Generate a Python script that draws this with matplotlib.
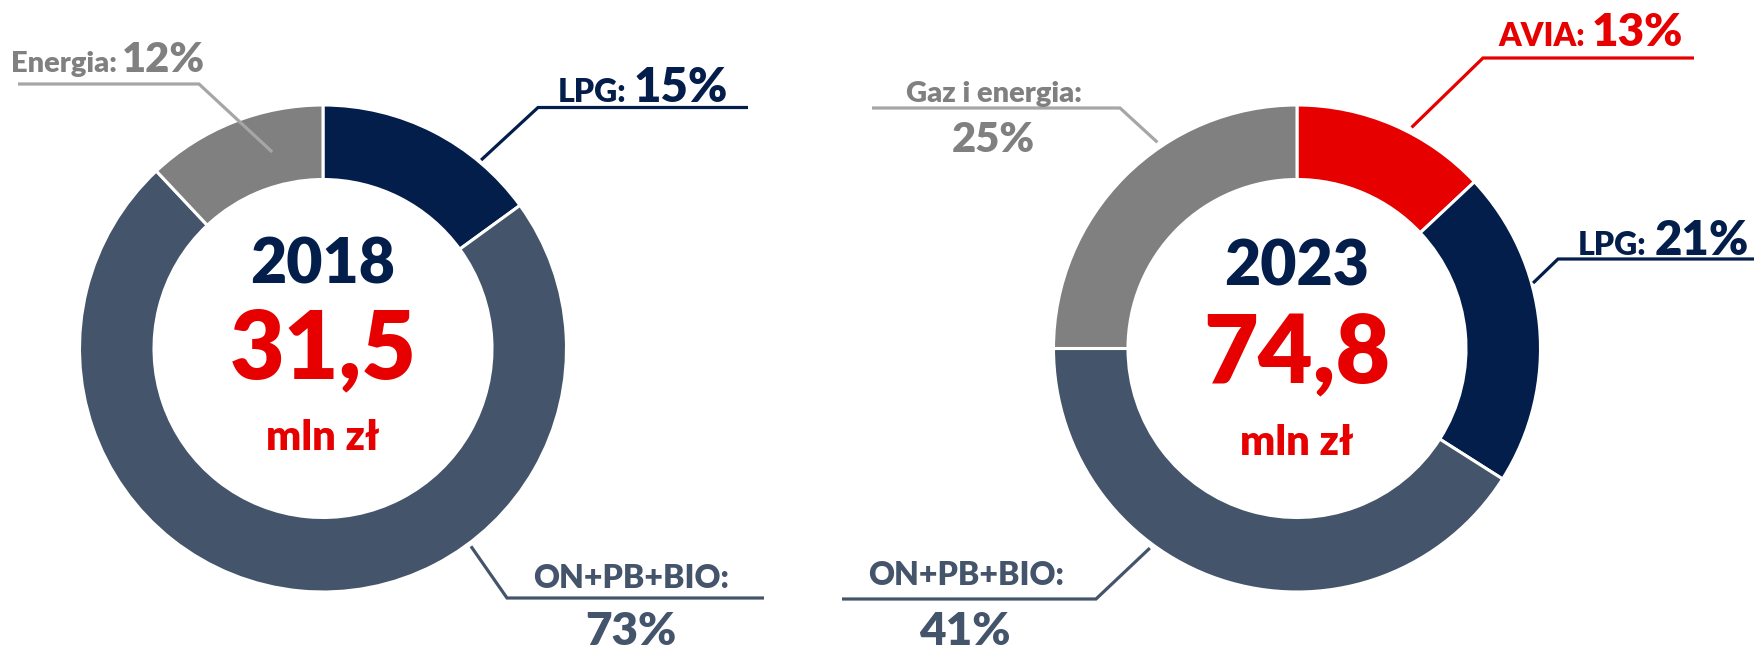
import numpy as np
import matplotlib
matplotlib.use("Agg")
import matplotlib.pyplot as plt

plt.rcParams['font.family'] = ['Lato', 'DejaVu Sans']

# ---------------- data ----------------
years = ['2018', '2023']
totals = ['31,5', '74,8']
unit = 'mln zł'
cats_2018 = ['LPG', 'ON+PB+BIO', 'Energia']
vals_2018 = [15, 73, 12]
cats_2023 = ['AVIA', 'LPG', 'ON+PB+BIO', 'Gaz i energia']
vals_2023 = [13, 21, 41, 25]

NAVY = '#041E4B'
RED = '#E60000'
SLATE = '#44546A'
GRAY = '#808080'
LGRAY = '#A6A6A6'

colors_2018 = [NAVY, SLATE, GRAY]
colors_2023 = [RED, NAVY, SLATE, GRAY]
text_2018 = [NAVY, SLATE, GRAY]
text_2023 = [RED, NAVY, SLATE, GRAY]
line_2018 = [NAVY, SLATE, LGRAY]
line_2023 = [RED, NAVY, SLATE, LGRAY]

WEIGHT = 'heavy'

W, H = 1754, 651
fig = plt.figure(figsize=(W / 100, H / 100), dpi=100)
ax = fig.add_axes([0, 0, 1, 1])

R_OUT = 243.5
R_IN = 169
centers = [(323, 348.5), (1297, 348.5)]


def Y(y):
    return H - y


layout_2018 = [
    dict(ang=40, r=246, ex=538, ey=107.5, fx=748, mode='inline',
         nx=558, ny=102, px=728, py=102, ns=23, ps=34),
    dict(ang=143.2, r=247, ex=507, ey=598, fx=764, mode='stack',
         nx=631, ny=588, px=631, py=645, ns=23, ps=33),
    dict(ang=-14.5, r=203, ex=199, ey=84, fx=18, mode='inline',
         nx=11, ny=72, px=205, py=72, ns=21, ps=30),
]
layout_2023 = [
    dict(ang=27.4, r=249, ex=1483, ey=58, fx=1694, mode='inline',
         nx=1498, ny=46, px=1683, py=46, ns=23, ps=33),
    dict(ang=74.5, r=245, ex=1558, ey=259, fx=1760, mode='inline',
         nx=1578, ny=255, px=1749, py=255, ns=23, ps=34),
    dict(ang=216.4, r=248, ex=1096, ey=599, fx=842, mode='stack',
         nx=966, ny=585, px=965, py=645, ns=23, ps=33),
    dict(ang=-34.1, r=249, ex=1120, ey=108, fx=872, mode='stack',
         nx=993.5, ny=102, px=993, py=152, ns=21, ps=30),
]

center_y = [(283, 378, 450), (285, 383, 455)]

charts = [
    (cats_2018, vals_2018, colors_2018, text_2018, line_2018, layout_2018),
    (cats_2023, vals_2023, colors_2023, text_2023, line_2023, layout_2023),
]

for i, (cats, vals, cols, tcols, lcols, lay) in enumerate(charts):
    cx, cy = centers[i]
    ax.pie(vals, colors=cols, startangle=90, counterclock=False,
           radius=R_OUT, center=(cx, Y(cy)),
           wedgeprops=dict(width=R_OUT - R_IN, edgecolor='white', linewidth=2.2))
    y1, y2, y3 = center_y[i]
    ax.text(cx, Y(y1), years[i], ha='center', va='baseline', fontsize=45,
            fontweight=WEIGHT, color=NAVY)
    ax.text(cx, Y(y2), totals[i], ha='center', va='baseline', fontsize=68,
            fontweight=WEIGHT, color=RED)
    ax.text(cx, Y(y3), unit, ha='center', va='baseline', fontsize=30,
            fontweight=WEIGHT, color=RED)
    for cat, v, tc, lc, L in zip(cats, vals, tcols, lcols, lay):
        a = np.deg2rad(L['ang'])
        sx = cx + L['r'] * np.sin(a)
        sy = cy - L['r'] * np.cos(a)
        ax.plot([sx, L['ex'], L['fx']], [Y(sy), Y(L['ey']), Y(L['ey'])],
                color=lc, lw=2.3, solid_capstyle='butt', solid_joinstyle='miter',
                zorder=1, clip_on=False)
        if L['mode'] == 'inline':
            ax.text(L['nx'], Y(L['ny']), f'{cat}:', ha='left', va='baseline',
                    fontsize=L['ns'], fontweight=WEIGHT, color=tc)
            ax.text(L['px'], Y(L['py']), f'{v}%', ha='right', va='baseline',
                    fontsize=L['ps'], fontweight=WEIGHT, color=tc)
        else:
            ax.text(L['nx'], Y(L['ny']), f'{cat}:', ha='center', va='baseline',
                    fontsize=L['ns'], fontweight=WEIGHT, color=tc)
            ax.text(L['px'], Y(L['py']), f'{v}%', ha='center', va='baseline',
                    fontsize=L['ps'], fontweight=WEIGHT, color=tc)

ax.set_xlim(0, W)
ax.set_ylim(0, H)
ax.set_aspect('equal')
ax.axis('off')

fig.savefig('out.png', dpi=100, facecolor='white')
